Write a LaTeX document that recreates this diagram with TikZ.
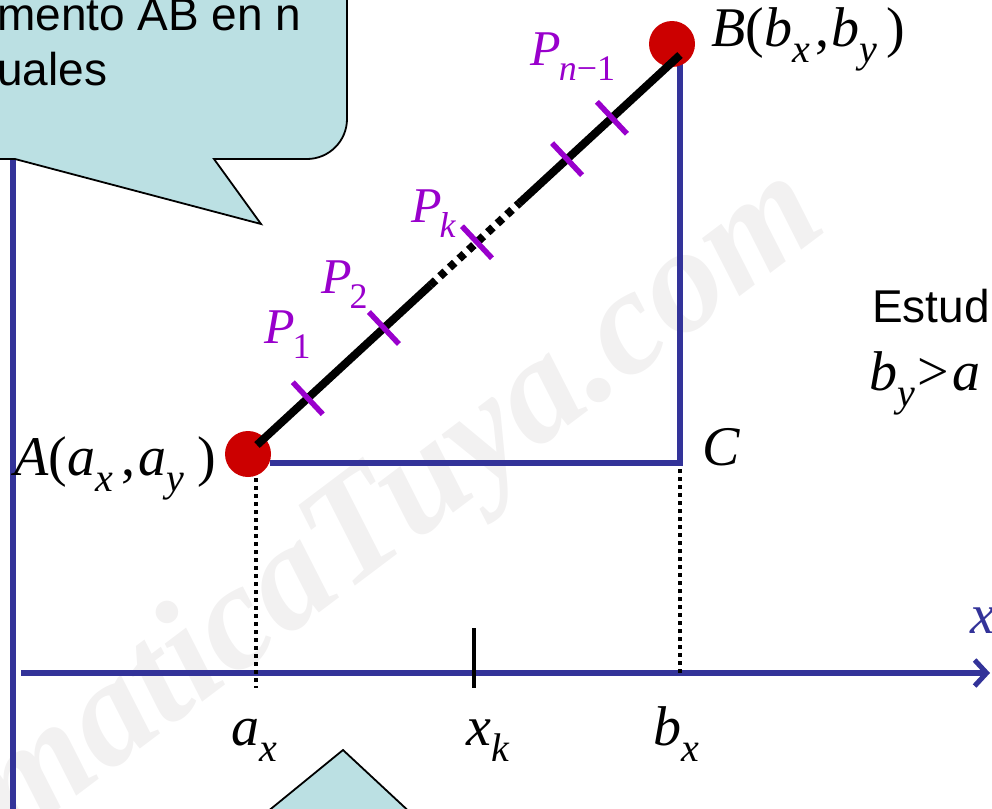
\documentclass[tikz,border=0pt]{standalone}
\usepackage{fontspec}
\setmainfont{Liberation Serif}
\newfontfamily\arialf{Liberation Sans}
\usetikzlibrary{arrows.meta,calc}
\definecolor{axisblue}{HTML}{333399}
\definecolor{ptred}{HTML}{CC0000}
\definecolor{tickpurple}{HTML}{9900CC}
\definecolor{callfill}{HTML}{BBE0E3}
\definecolor{wmgray}{HTML}{F2F1F1}
\newcommand\mysub[1]{\raisebox{-15pt}{\fontsize{36}{36}\selectfont\upshape #1}}
\newcommand\mysubi[1]{\raisebox{-16pt}{\fontsize{40}{40}\selectfont\itshape #1}}
\begin{document}
\begin{tikzpicture}[x=1pt,y=-1pt,
  mathlbl/.style={anchor=base west,inner sep=0pt,font=\fontsize{56}{56}\selectfont\itshape},
  plbl/.style={anchor=base west,inner sep=0pt,font=\fontsize{50}{50}\selectfont\itshape,text=tickpurple},
  sanslbl/.style={anchor=base west,inner sep=0pt,font=\fontsize{46}{54}\selectfont\arialf},
  reddot/.style={circle,fill=ptred,minimum size=46pt,inner sep=0pt},
  axisline/.style={draw=axisblue,line width=5.5pt},
  segline/.style={line width=8pt,black},
  tickmark/.style={draw=tickpurple,line width=5.5pt},
  guide/.style={draw=black,line width=3.5pt,dash pattern=on 4pt off 4pt},
  callout/.style={draw=black,line width=1.8pt,fill=callfill,line join=miter}]
\useasboundingbox (0,0) rectangle (992,808);
\clip (0,0) rectangle (992,808);
% watermark
\node[text=wmgray,rotate=37,inner sep=0pt,font=\fontsize{150}{150}\selectfont\bfseries\itshape] (wm) at (400,508) {maticaTuya.com};
% axes
\coordinate (yaxtop) at (13,120);
\coordinate (yaxbot) at (13,812);
\draw[axisline] (yaxtop) -- (yaxbot);
\coordinate (xaxl) at (21,673);
\coordinate (xaxr) at (990,673);
\draw[axisline,-{Straight Barb[length=12pt,width=26pt,line width=5pt]}] (xaxl) -- (xaxr);
% guides
\coordinate (ga1) at (256,462);
\coordinate (ga2) at (256,688);
\coordinate (gb1) at (680,469);
\coordinate (gb2) at (680,673);
\draw[guide] (ga1) -- (ga2);
\draw[guide] (gb1) -- (gb2);
% xk tick
\coordinate (xk1) at (474,628);
\coordinate (xk2) at (474,688);
\draw[black,line width=4.5pt] (xk1) -- (xk2);
% triangle sides
\coordinate (Ctop) at (680,56);
\coordinate (C) at (680,463);
\coordinate (Cl) at (270,463);
\draw[axisline,line width=6pt,line join=miter] (Ctop) -- (C) -- (Cl);
% points
\node[reddot] (A) at (248,454) {};
\node[reddot] (B) at (672,44) {};
% segment
\coordinate (A0) at (257,445);
\coordinate (B0) at (680,55);
\coordinate (Q1) at ($(A0)!0.41!(B0)$);
\coordinate (Q2) at ($(A0)!0.62!(B0)$);
\draw[segline] (A0) -- (Q1);
\draw[segline,dash pattern=on 7pt off 6pt] (Q1) -- (Q2);
\draw[segline] (Q2) -- (B0);
% ticks
\foreach \t/\nm in {0.12/t1,0.30/t2,0.52/tk,0.733/t4,0.839/t5}{
  \coordinate (\nm) at ($(A0)!\t!(B0)$);
  \draw[tickmark] (\nm) ++(-15,-16) -- ++(30,32);
}
% labels
\node[plbl] (lp1) at (264,343) {P\hspace{-2pt}\mysub{1}};
\node[plbl] (lp2) at (321,293) {P\hspace{-2pt}\mysub{2}};
\node[plbl] (lpk) at (411,222) {P\hspace{-2pt}\raisebox{-15pt}{\fontsize{36}{36}\selectfont\itshape k}};
\node[plbl] (lpn) at (530,65) {P\hspace{-2pt}\raisebox{-15pt}{\fontsize{36}{36}\selectfont\itshape n\upshape −1}};
\node[mathlbl] (lB) at (711,47) {B\upshape(\itshape b\mysubi{x}\hspace{6pt}\upshape,\hspace{2pt}\itshape b\mysubi{y}\hspace{9pt}\upshape)};
\node[mathlbl] (lA) at (14,475) {A\upshape(\itshape a\mysubi{x}\hspace{9pt}\upshape,\hspace{3pt}\itshape a\mysubi{y}\hspace{13pt}\upshape)};
\node[mathlbl] (lC) at (702,465) {C};
\node[mathlbl] (lax) at (231,745) {a\mysubi{x}};
\node[mathlbl] (lxk) at (466,745) {x\mysubi{k}};
\node[mathlbl] (lbx) at (653,745) {b\mysubi{x}};
\node[mathlbl,text=axisblue] (lx) at (970,633) {x};
\node[sanslbl] (estud) at (872,322) {Estud};
\node[mathlbl] (byax) at (869,390) {b\mysubi{y}\upshape\hspace{3pt}>\hspace{3pt}\itshape a};
% top callout
\coordinate (c1) at (-60,-60);
\coordinate (c2) at (347,-60);
\coordinate (c3) at (347,119);
\coordinate (c4) at (307,159);
\coordinate (c5) at (214,159);
\coordinate (ctip) at (261,224);
\coordinate (c6) at (15,159);
\coordinate (c7) at (-60,159);
\draw[callout] (c1) -- (c2) -- (c3) .. controls (347,141) and (329,159) .. (c4) -- (c5) -- (ctip) -- (c6) -- (c7) -- cycle;
\node[sanslbl] (ct1) at (-3,31) {mento AB en n};
\node[sanslbl] (ct2) at (-3,85) {uales};
% bottom callout pointer
\coordinate (d1) at (245,830);
\coordinate (dtip) at (343,750);
\coordinate (d2) at (429,830);
\draw[callout] (d1) -- (dtip) -- (d2) -- cycle;
\end{tikzpicture}
\end{document}
